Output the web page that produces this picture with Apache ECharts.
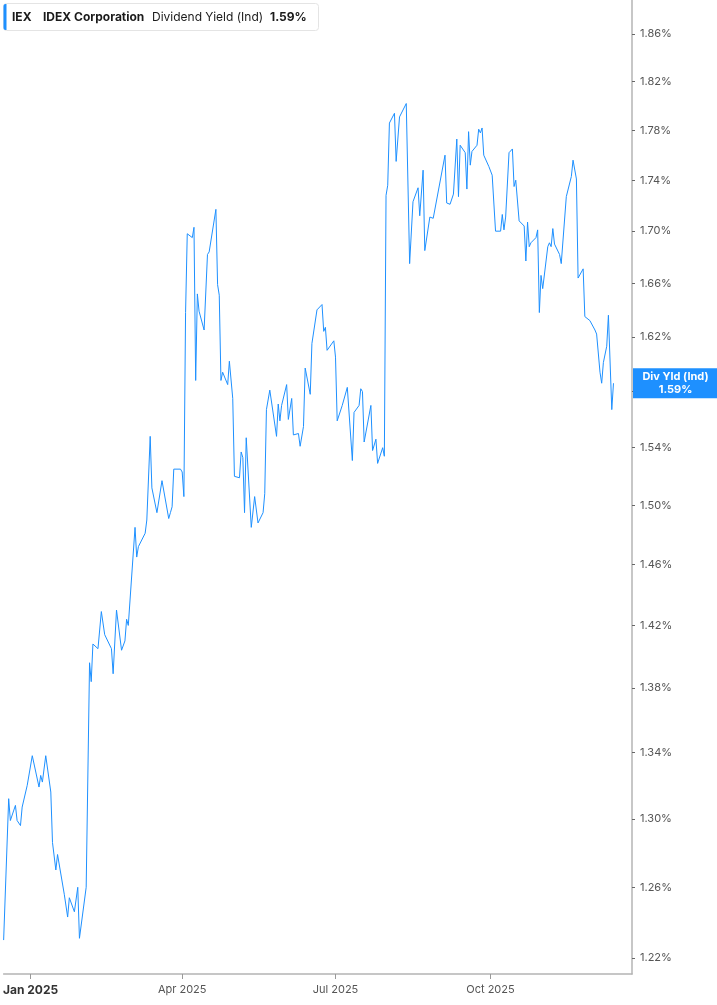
<!DOCTYPE html>
<html>
<head>
<meta charset="utf-8">
<script src="https://cdn.jsdelivr.net/npm/echarts@6/dist/echarts.min.js"></script>
<style>
html,body{margin:0;padding:0;background:#fff;}
#chart{width:717px;height:1005px;}
</style>
</head>
<body>
<div id="chart"></div>
<script>
const dates = [
'2024-12-16','2024-12-19','2024-12-20','2024-12-23','2024-12-24','2024-12-26','2024-12-27','2024-12-30','2024-12-31',
'2025-01-02','2025-01-06','2025-01-07','2025-01-08','2025-01-10','2025-01-13','2025-01-14','2025-01-15','2025-01-16','2025-01-17',
'2025-01-21','2025-01-22','2025-01-23','2025-01-24','2025-01-27','2025-01-28','2025-01-29','2025-01-30','2025-01-31',
'2025-02-03','2025-02-04','2025-02-05','2025-02-06','2025-02-07','2025-02-10','2025-02-12','2025-02-13','2025-02-14',
'2025-02-18','2025-02-19','2025-02-21','2025-02-24','2025-02-25','2025-02-26','2025-02-27','2025-02-28',
'2025-03-04','2025-03-05','2025-03-06','2025-03-07','2025-03-10','2025-03-11','2025-03-13','2025-03-14','2025-03-17','2025-03-18',
'2025-03-20','2025-03-24','2025-03-25','2025-03-26','2025-03-27','2025-03-31',
'2025-04-01','2025-04-02','2025-04-03','2025-04-04','2025-04-07','2025-04-08','2025-04-09','2025-04-10','2025-04-11','2025-04-14',
'2025-04-16','2025-04-17','2025-04-21','2025-04-22','2025-04-23','2025-04-24','2025-04-25','2025-04-28','2025-04-29',
'2025-05-01','2025-05-02','2025-05-05','2025-05-06','2025-05-07','2025-05-08','2025-05-09','2025-05-12','2025-05-14','2025-05-16',
'2025-05-19','2025-05-20','2025-05-21','2025-05-22','2025-05-23','2025-05-27','2025-05-28','2025-05-29','2025-05-30',
'2025-06-02','2025-06-03','2025-06-05','2025-06-06','2025-06-09','2025-06-10','2025-06-12','2025-06-13','2025-06-16','2025-06-17',
'2025-06-20','2025-06-23','2025-06-24','2025-06-25','2025-06-26','2025-06-30',
'2025-07-01','2025-07-02','2025-07-05','2025-07-08','2025-07-11','2025-07-12','2025-07-15','2025-07-16','2025-07-17','2025-07-18',
'2025-07-22','2025-07-23','2025-07-25','2025-07-26','2025-07-29','2025-07-30','2025-07-31',
'2025-08-01','2025-08-02','2025-08-05','2025-08-06','2025-08-08','2025-08-12','2025-08-14','2025-08-16','2025-08-19','2025-08-20',
'2025-08-22','2025-08-23','2025-08-26','2025-08-28',
'2025-09-04','2025-09-05','2025-09-07','2025-09-09','2025-09-11','2025-09-12','2025-09-13','2025-09-16','2025-09-17','2025-09-18',
'2025-09-19','2025-09-20','2025-09-23','2025-09-24','2025-09-25','2025-09-26','2025-09-27','2025-09-30',
'2025-10-02','2025-10-04','2025-10-07','2025-10-08','2025-10-09','2025-10-10','2025-10-12','2025-10-14','2025-10-15','2025-10-16',
'2025-10-18','2025-10-21','2025-10-22','2025-10-23','2025-10-24','2025-10-25','2025-10-28','2025-10-29','2025-10-30','2025-10-31',
'2025-11-01','2025-11-04','2025-11-05','2025-11-06','2025-11-07','2025-11-08','2025-11-11','2025-11-12','2025-11-13','2025-11-15',
'2025-11-18','2025-11-19','2025-11-20','2025-11-21','2025-11-22','2025-11-25','2025-11-26','2025-11-29',
'2025-12-02','2025-12-03','2025-12-05','2025-12-06','2025-12-07','2025-12-09','2025-12-10','2025-12-12','2025-12-13'
];
const yields = [
1.230,1.312,1.299,1.308,1.299,1.296,1.307,1.320,1.319,
1.338,1.319,1.326,1.322,1.338,1.316,1.286,1.285,1.270,1.279,
1.256,1.255,1.243,1.254,1.246,1.247,1.260,1.231,1.230,
1.260,1.261,1.396,1.384,1.408,1.405,1.429,1.428,1.414,
1.405,1.389,1.430,1.404,1.405,1.410,1.424,1.420,
1.485,1.465,1.472,1.471,1.481,1.490,1.548,1.512,1.495,1.495,
1.517,1.491,1.495,1.499,1.525,1.525,
1.523,1.506,1.638,1.698,1.695,1.703,1.588,1.652,1.639,1.625,
1.682,1.684,1.717,1.659,1.651,1.588,1.594,1.585,1.602,
1.575,1.520,1.519,1.537,1.533,1.495,1.547,1.485,1.506,1.488,
1.495,1.508,1.567,1.568,1.581,1.548,1.571,1.559,1.570,
1.585,1.560,1.575,1.549,1.550,1.541,1.555,1.597,1.578,1.615,
1.640,1.644,1.624,1.627,1.610,1.617,
1.605,1.559,1.570,1.583,1.531,1.565,1.570,1.582,1.580,1.544,
1.570,1.538,1.546,1.529,1.540,1.534,1.728,
1.736,1.786,1.794,1.755,1.791,1.802,1.675,1.723,1.734,1.712,
1.748,1.685,1.711,1.710,
1.760,1.722,1.721,1.729,1.773,1.727,1.768,1.762,1.733,1.779,
1.752,1.763,1.768,1.781,1.778,1.782,1.760,1.751,
1.744,1.700,1.700,1.713,1.701,1.711,1.762,1.765,1.735,1.740,
1.708,1.704,1.677,1.707,1.688,1.691,1.695,1.701,1.638,1.666,
1.656,1.688,1.691,1.688,1.702,1.690,1.682,1.675,1.674,1.727,
1.743,1.756,1.755,1.741,1.664,1.671,1.635,1.632,
1.625,1.622,1.594,1.586,1.601,1.613,1.636,1.567,1.586
];
const yTicks = [1.22,1.26,1.30,1.34,1.38,1.42,1.46,1.50,1.54,1.58,1.62,1.66,1.70,1.74,1.78,1.82,1.86];
const xTicks = ['2025-01-01','2025-04-01','2025-07-01','2025-10-01'];
const xRange = ['2024-12-16','2025-12-24'];
const monthNames = ['Jan','Feb','Mar','Apr','May','Jun','Jul','Aug','Sep','Oct','Nov','Dec'];
const ticker = 'IEX';
const company = 'IDEX Corporation';
const metric = 'Dividend Yield (Ind)';
const tagName = 'Div Yld (Ind)';

const lineColor = '#1e90ff';
const FONT = 'Inter, Roboto, "Noto Sans", sans-serif';
const ts = function (s) { return Date.parse(s + 'T00:00:00Z'); };
const last = yields[yields.length - 1];
const lastTxt = last.toFixed(2) + '%';

const chart = echarts.init(document.getElementById('chart'), null, {renderer: 'canvas'});
const option = {
  animation: false,
  backgroundColor: '#fff',
  textStyle: {fontFamily: FONT},
  grid: {left: 0, right: 85, top: 0, bottom: 31},
  xAxis: {
    type: 'value',
    min: ts(xRange[0]),
    max: ts(xRange[1]),
    splitLine: {show: false},
    axisLine: {show: true, onZero: false, lineStyle: {color: '#b4b4b4', width: 1.5}},
    axisTick: {show: true, customValues: xTicks.map(ts), length: 5, lineStyle: {color: '#999'}},
    axisLabel: {
      customValues: xTicks.map(ts),
      color: '#555',
      fontSize: 11,
      fontFamily: FONT,
      margin: 10,
      formatter: function (v) {
        const d = new Date(v);
        const s = monthNames[d.getUTCMonth()] + ' ' + d.getUTCFullYear();
        return d.getUTCMonth() === 0 ? '{b|' + s + '}' : s;
      },
      rich: {b: {fontWeight: 'bold', fontSize: 12, color: '#333', fontFamily: FONT}}
    }
  },
  yAxis: {
    type: 'log',
    logBase: 10,
    position: 'right',
    min: 1.2111,
    max: 1.8892,
    splitLine: {show: false},
    axisLine: {show: true, lineStyle: {color: '#b4b4b4', width: 1.5}},
    axisTick: {show: true, customValues: yTicks, length: 3, lineStyle: {color: '#666'}},
    axisLabel: {
      customValues: yTicks,
      color: '#555',
      fontSize: 11,
      fontFamily: FONT,
      margin: 8,
      formatter: function (v) { return Number(v).toFixed(2) + '%'; }
    }
  },
  series: [{
    type: 'line',
    data: dates.map(function (d, i) { return [ts(d), yields[i]]; }),
    showSymbol: false,
    symbol: 'none',
    lineStyle: {color: lineColor, width: 1},
    itemStyle: {color: lineColor}
  }]
};
chart.setOption(option);

// Annotations: legend box and last-value tag (placed through the chart's own scale)
const tagY = chart.convertToPixel({yAxisIndex: 0}, last);
const gridRight = 717 - 85;
chart.setOption({
  graphic: [
    {type: 'rect', shape: {x: 3.5, y: 3.5, width: 315, height: 27, r: 3}, style: {fill: '#fff', stroke: '#e4e4e4', lineWidth: 1}, z: 10},
    {type: 'rect', shape: {x: 3.5, y: 4, width: 3, height: 26, r: [2, 0, 0, 2]}, style: {fill: lineColor}, z: 11},
    {type: 'text', x: 12, y: 17, style: {text: ticker, font: 'bold 12px ' + FONT, fill: '#1a1a1a', verticalAlign: 'middle'}, z: 11},
    {type: 'text', x: 43, y: 17, style: {text: company, font: 'bold 12px ' + FONT, fill: '#1a1a1a', verticalAlign: 'middle'}, z: 11},
    {type: 'text', x: 152, y: 17, style: {text: metric, font: '12px ' + FONT, fill: '#1a1a1a', verticalAlign: 'middle'}, z: 11},
    {type: 'text', x: 270, y: 17, style: {text: lastTxt, font: 'bold 12px ' + FONT, fill: '#1a1a1a', verticalAlign: 'middle'}, z: 11},
    {type: 'rect', shape: {x: gridRight + 1, y: tagY - 15, width: 717 - gridRight - 1, height: 30}, style: {fill: lineColor}, z: 20},
    {type: 'text', x: (gridRight + 717) / 2 + 1, y: tagY - 7, style: {text: tagName, font: 'bold 11px ' + FONT, fill: '#fff', align: 'center', verticalAlign: 'middle'}, z: 21},
    {type: 'text', x: (gridRight + 717) / 2 + 1, y: tagY + 6, style: {text: lastTxt, font: 'bold 11px ' + FONT, fill: '#fff', align: 'center', verticalAlign: 'middle'}, z: 21}
  ]
});
</script>
</body>
</html>
